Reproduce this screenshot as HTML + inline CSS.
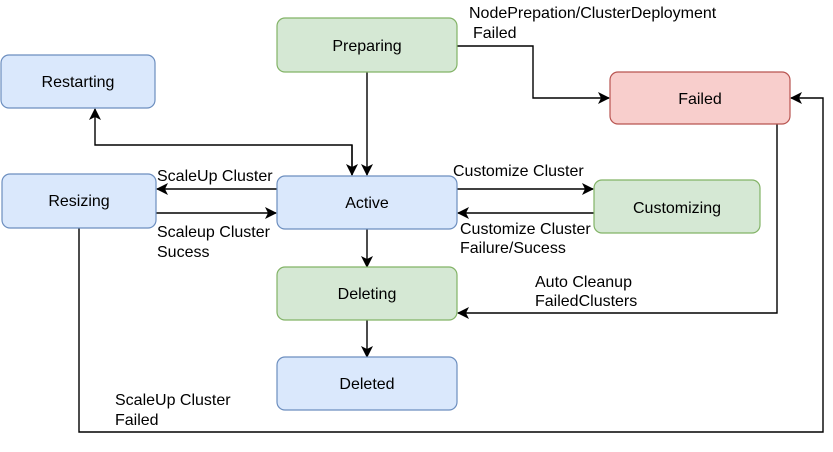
<!DOCTYPE html>
<html><head><meta charset="utf-8"><style>
body{margin:0;background:#fff;}
svg text{font-family:"Liberation Sans",Arial,sans-serif;font-size:16px;fill:#000;}
</style></head><body>
<svg width="833" height="447" viewBox="0 0 833 447" xmlns="http://www.w3.org/2000/svg">
<defs><marker id="a" markerWidth="12" markerHeight="12" refX="11" refY="6" orient="auto" markerUnits="userSpaceOnUse"><path d="M0,0 L12,6 L0,12 L3,6 Z" fill="#000"/></marker></defs>
<g fill="none" stroke="#000" stroke-width="1.4">
<path d="M367,72 V175" marker-end="url(#a)"/>
<path d="M352,175 V145 H95 V109" marker-end="url(#a)"/>
<path d="M352,145 V175" marker-end="url(#a)"/>
<path d="M277,189 H157" marker-end="url(#a)"/>
<path d="M156,213 H276" marker-end="url(#a)"/>
<path d="M457,46 H533 V98 H609" marker-end="url(#a)"/>
<path d="M457,189 H593" marker-end="url(#a)"/>
<path d="M594,213 H458" marker-end="url(#a)"/>
<path d="M367,229 V267" marker-end="url(#a)"/>
<path d="M367,320 V357" marker-end="url(#a)"/>
<path d="M777,124 V313 H458" marker-end="url(#a)"/>
<path d="M79,228 V432 H823 V98 H791" marker-end="url(#a)"/>
</g>
<g stroke-width="1.2">
<rect x="277" y="18" width="180" height="54" rx="8" fill="#d5e8d4" stroke="#82b366"/>
<rect x="1" y="55" width="154" height="53" rx="8" fill="#dae8fc" stroke="#6c8ebf"/>
<rect x="2" y="174" width="154" height="54" rx="8" fill="#dae8fc" stroke="#6c8ebf"/>
<rect x="277" y="176" width="180" height="53" rx="8" fill="#dae8fc" stroke="#6c8ebf"/>
<rect x="610" y="72" width="180" height="52" rx="8" fill="#f8cecc" stroke="#b85450"/>
<rect x="594" y="180" width="166" height="53" rx="8" fill="#d5e8d4" stroke="#82b366"/>
<rect x="277" y="267" width="180" height="53" rx="8" fill="#d5e8d4" stroke="#82b366"/>
<rect x="277" y="357" width="180" height="53" rx="8" fill="#dae8fc" stroke="#6c8ebf"/>
</g>
<g text-anchor="middle">
<text x="367" y="51">Preparing</text>
<text x="78" y="87">Restarting</text>
<text x="79" y="206">Resizing</text>
<text x="367" y="208">Active</text>
<text x="700" y="104">Failed</text>
<text x="677" y="213">Customizing</text>
<text x="367" y="299">Deleting</text>
<text x="367" y="389">Deleted</text>
</g>
<text x="469" y="18">NodePrepation/ClusterDeployment</text>
<text x="473" y="38">Failed</text>
<text x="157" y="181">ScaleUp Cluster</text>
<text x="157" y="237">Scaleup Cluster</text>
<text x="157" y="257">Sucess</text>
<text x="453" y="176">Customize Cluster</text>
<text x="460" y="234">Customize Cluster</text>
<text x="460" y="253">Failure/Sucess</text>
<text x="535" y="287">Auto Cleanup</text>
<text x="535" y="306">FailedClusters</text>
<text x="115" y="405">ScaleUp Cluster</text>
<text x="115" y="425">Failed</text>
</svg>
</body></html>
